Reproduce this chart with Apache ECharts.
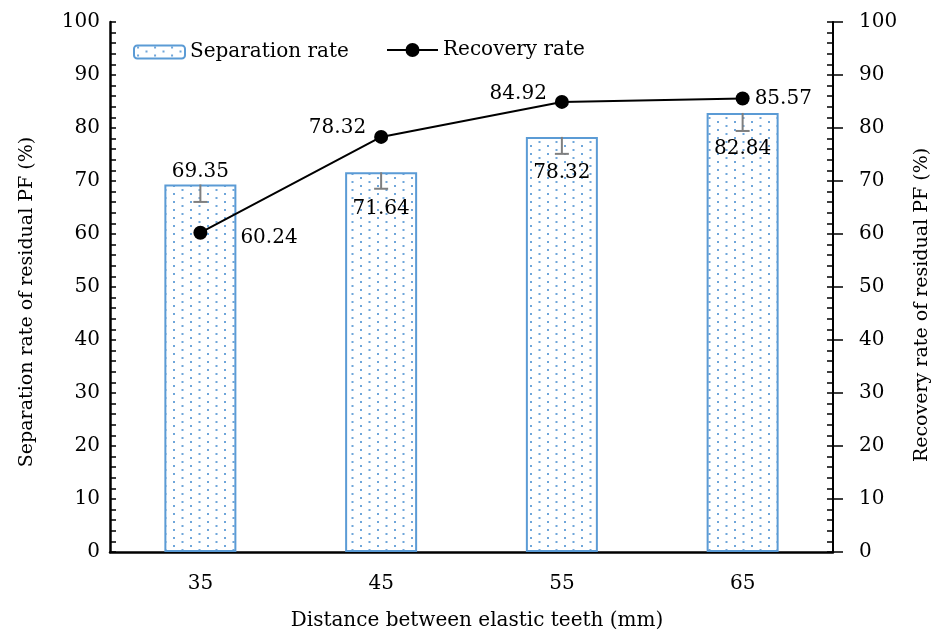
<!DOCTYPE html>
<html><head><meta charset="utf-8">
<script src="https://cdn.jsdelivr.net/npm/echarts@6/dist/echarts.min.js"></script>
<style>html,body{margin:0;padding:0;background:#fff}#c{width:937px;height:634px}</style>
</head><body><div id="c"></div>
<script>
const categories = ['35', '45', '55', '65'];
const separation = [69.35, 71.64, 78.32, 82.84];
const sepErrorMinus = [3.3, 3.1, 3.2, 3.4];
const recovery = [60.24, 78.32, 84.92, 85.57];
const seriesNames = ['Separation rate', 'Recovery rate'];
const xTitle = 'Distance between elastic teeth (mm)';
const yLeftTitle = 'Separation rate of residual PF (%)';
const yRightTitle = 'Recovery rate of residual PF (%)';

const FONT = 'DejaVu Serif';
const FS = 20;
const BLUE = '#5B9BD5';

// dotted fill pattern
const pat = document.createElement('canvas');
pat.width = 17; pat.height = 8;
const pc = pat.getContext('2d');
pc.fillStyle = '#fff'; pc.fillRect(0, 0, 17, 8);
pc.fillStyle = '#6fa6da';
pc.fillRect(3, 1, 2, 2);
pc.fillRect(11.5, 5, 2, 2);

const chart = echarts.init(document.getElementById('c'), null, {renderer: 'canvas'});

const barLabelCfg = [
  {position: 'top', distance: 3},
  {position: 'insideTop', distance: 26},
  {position: 'insideTop', distance: 26},
  {position: 'insideTop', distance: 26}
];
const lineLabelCfg = [
  {position: 'right', distance: 5, offset: [28, 5]},
  {position: 'left', distance: 5, offset: [-3, -9]},
  {position: 'left', distance: 5, offset: [-3, -8]},
  {position: 'right', distance: 5, offset: [0, 0]}
];

const tickLabel = {fontFamily: FONT, fontSize: FS, color: '#000'};
const legendText = {fontFamily: FONT, fontSize: FS, color: '#000'};

chart.setOption({
  animation: false,
  backgroundColor: '#fff',
  grid: {left: 110, right: 104, top: 22, bottom: 82, containLabel: false},
  legend: [
    {left: 128, top: 37, itemWidth: 51, itemHeight: 13, data: [seriesNames[0]], textStyle: legendText},
    {left: 381, top: 35, itemWidth: 51, itemHeight: 17.5, data: [seriesNames[1]], textStyle: legendText}
  ],
  xAxis: {
    type: 'category', data: categories, boundaryGap: true,
    axisLine: {lineStyle: {color: '#000', width: 2.5}},
    axisTick: {show: true, inside: true, alignWithLabel: true, length: 4, lineStyle: {color: '#000', width: 2}},
    axisLabel: Object.assign({margin: 22}, tickLabel),
    splitLine: {show: false}
  },
  yAxis: [
    {
      type: 'value', min: 0, max: 100, interval: 10, position: 'left',
      axisLine: {show: true, lineStyle: {color: '#000', width: 2.5}},
      axisTick: {show: true, inside: true, length: 6, lineStyle: {color: '#000', width: 1.5}},
      minorTick: {show: true, splitNumber: 5, length: 6, lineStyle: {color: '#000', width: 1.5}},
      axisLabel: Object.assign({margin: 10}, tickLabel),
      splitLine: {show: false}
    },
    {
      type: 'value', min: 0, max: 100, interval: 10, position: 'right',
      axisLine: {show: true, lineStyle: {color: '#000', width: 2}},
      axisTick: {show: true, inside: false, length: 10, lineStyle: {color: '#000', width: 1.5}},
      axisLabel: Object.assign({margin: 26}, tickLabel),
      splitLine: {show: false}
    },
    {
      type: 'value', min: 0, max: 100, interval: 10, position: 'right',
      axisLine: {show: false},
      axisTick: {show: true, inside: true, length: 6, lineStyle: {color: '#000', width: 1.5}},
      minorTick: {show: true, splitNumber: 5, length: 6, lineStyle: {color: '#000', width: 1.5}},
      axisLabel: {show: false},
      splitLine: {show: false}
    }
  ],
  graphic: [
    {type: 'text', x: 27, y: 302, rotation: Math.PI / 2,
     style: {text: yLeftTitle, fontFamily: FONT, fontSize: 19, fill: '#000', align: 'center', verticalAlign: 'middle'}},
    {type: 'text', x: 922, y: 305, rotation: Math.PI / 2,
     style: {text: yRightTitle, fontFamily: FONT, fontSize: 19, fill: '#000', align: 'center', verticalAlign: 'middle'}},
    {type: 'text', x: 477, y: 621,
     style: {text: xTitle, fontFamily: FONT, fontSize: FS, fill: '#000', align: 'center', verticalAlign: 'middle'}}
  ],
  series: [
    {
      name: seriesNames[0], type: 'bar', yAxisIndex: 0, barWidth: 72,
      itemStyle: {color: {image: pat, repeat: 'repeat'}, borderColor: BLUE, borderWidth: 2},
      data: separation.map((v, i) => ({
        value: v,
        label: Object.assign({show: true, fontFamily: FONT, fontSize: FS, color: '#000'}, barLabelCfg[i])
      })),
      z: 2
    },
    {
      name: 'err', type: 'custom', yAxisIndex: 0, z: 3,
      data: separation.map((v, i) => [i, v, v - sepErrorMinus[i]]),
      renderItem: function (params, api) {
        const top = api.coord([api.value(0), api.value(1)]);
        const bot = api.coord([api.value(0), api.value(2)]);
        const hw = 7;
        const st = {stroke: '#7f7f7f', lineWidth: 2};
        return {type: 'group', children: [
          {type: 'line', shape: {x1: top[0], y1: top[1], x2: bot[0], y2: bot[1]}, style: st},
          {type: 'line', shape: {x1: bot[0] - hw, y1: bot[1], x2: bot[0] + hw, y2: bot[1]}, style: st}
        ]};
      }
    },
    {
      name: seriesNames[1], type: 'line', yAxisIndex: 0, z: 4,
      symbol: 'circle', symbolSize: 14,
      lineStyle: {color: '#000', width: 2},
      itemStyle: {color: '#000'},
      data: recovery.map((v, i) => ({
        value: v,
        label: Object.assign({show: true, fontFamily: FONT, fontSize: FS, color: '#000'}, lineLabelCfg[i])
      }))
    }
  ]
});
</script></body></html>
